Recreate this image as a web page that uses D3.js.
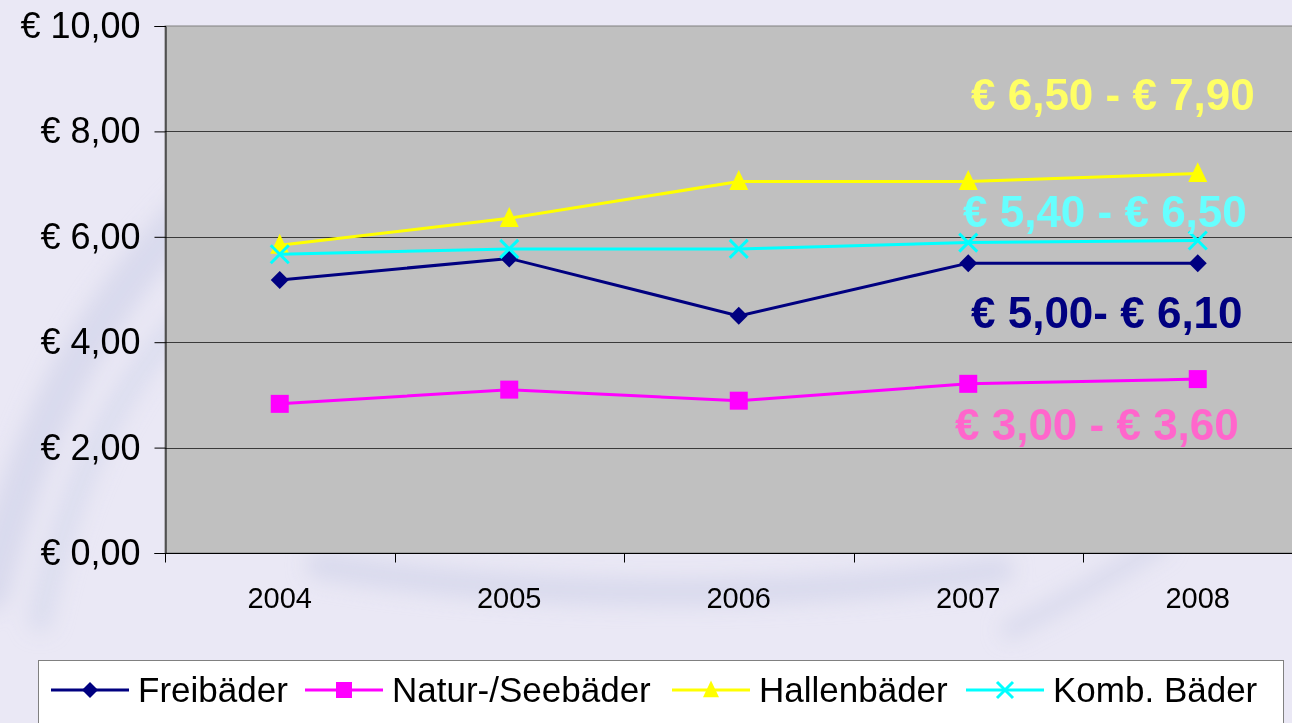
<!DOCTYPE html>
<html>
<head>
<meta charset="utf-8">
<script src="https://cdn.jsdelivr.net/npm/d3@7"></script>
<style>
html, body { margin: 0; padding: 0; background: #eae8f5; }
svg { display: block; font-family: "Liberation Sans", Arial, sans-serif; }
</style>
</head>
<body>
<div id="chart"></div>
<script>
var w = 1292,
	h = 723;

// data
var years = ['2004', '2005', '2006', '2007', '2008'];
var freibaeder = [5.18, 5.59, 4.50, 5.50, 5.50];
var naturSeebaeder = [2.83, 3.10, 2.89, 3.21, 3.30];
var hallenbaeder = [5.84, 6.35, 7.05, 7.05, 7.20];
var kombBaeder = [5.67, 5.77, 5.77, 5.89, 5.93];
var seriesNames = ['Freibäder', 'Natur-/Seebäder', 'Hallenbäder', 'Komb. Bäder'];
var yTicks = [0, 2, 4, 6, 8, 10];
var rangeLabels = ['€ 6,50 - € 7,90', '€ 5,40 - € 6,50', '€ 5,00- € 6,10', '€ 3,00 - € 3,60'];

var colors = ['#000080', '#ff00ff', '#ffff00', '#00ffff'];
var labelColors = ['#ffff66', '#66ffff', '#000080', '#ff66cc'];
var symbols = ['diamond', 'square', 'triangle', 'cross'];

var series = [freibaeder, naturSeebaeder, hallenbaeder, kombBaeder].map(function(vals, i){
	return { name: seriesNames[i], color: colors[i], symbol: symbols[i], values: vals };
});

var plot = { left: 165, top: 26, bottom: 553, step: 229.5 };

// annotation anchors (left x in px, baseline in axis units)
var annX = [971, 963, 971, 955],
	annY = [8.41, 6.19, 4.27, 2.14];

var x = d3.scaleBand()
	.domain(years)
	.range([plot.left, plot.left + years.length * plot.step])
	.padding(0);

var y = d3.scaleLinear()
	.domain([0, 10])
	.range([plot.bottom, plot.top]);

var svg = d3.select('#chart').append('svg')
	.attr('width', w)
	.attr('height', h)
	.attr('viewBox', '0 0 ' + w + ' ' + h);

// background + faint watermark swirl
var defs = svg.append('defs');
defs.append('filter').attr('id', 'blur')
	.attr('x', '-20%').attr('y', '-20%').attr('width', '140%').attr('height', '140%')
	.append('feGaussianBlur').attr('stdDeviation', 10);

svg.append('rect').attr('width', w).attr('height', h).attr('fill', '#eae8f5');

var wm = svg.append('g').attr('filter', 'url(#blur)').attr('fill', 'none').attr('stroke-linecap', 'round');
wm.append('path')
	.attr('d', 'M-10,590 C30,430 90,310 200,200')
	.attr('stroke', '#d2d4e9').attr('stroke-width', 40).attr('opacity', 0.7);
wm.append('path')
	.attr('d', 'M40,620 C70,480 120,380 200,300')
	.attr('stroke', '#d6d8ec').attr('stroke-width', 24).attr('opacity', 0.7);
wm.append('path')
	.attr('d', 'M320,565 C520,600 800,600 1000,570')
	.attr('stroke', '#d2d4e9').attr('stroke-width', 28).attr('opacity', 0.7);
wm.append('path')
	.attr('d', 'M1010,630 C1070,600 1110,575 1160,545')
	.attr('stroke', '#d2d4e9').attr('stroke-width', 18).attr('opacity', 0.7);

// plot area
svg.append('rect')
	.attr('x', plot.left)
	.attr('y', plot.top)
	.attr('width', w - plot.left + 20)
	.attr('height', plot.bottom - plot.top)
	.attr('fill', '#c0c0c0')
	.attr('stroke', '#808080')
	.attr('stroke-width', 1);

// gridlines
svg.append('g').selectAll('.grid')
	.data(yTicks.filter(function(d){ return d > 0 && d < 10; }))
	.enter().append('line')
		.attr('class', 'grid')
		.attr('x1', plot.left)
		.attr('x2', w)
		.attr('y1', function(d){ return Math.round(y(d)) + 0.5; })
		.attr('y2', function(d){ return Math.round(y(d)) + 0.5; })
		.attr('stroke', '#3a3a3a')
		.attr('stroke-width', 1);

// y axis
var yAxis = svg.append('g')
	.attr('transform', 'translate(' + (plot.left + 0.5) + ',0)')
	.call(d3.axisLeft(y)
		.tickValues(yTicks)
		.tickSize(11)
		.tickPadding(14)
		.tickFormat(function(d){ return '€ ' + d3.format('.2f')(d).replace('.', ','); }));
yAxis.select('.domain').attr('stroke', '#000');
yAxis.selectAll('.tick line').attr('stroke', '#000');
yAxis.selectAll('.tick text')
	.attr('font-size', 36)
	.attr('fill', '#000')
	.attr('font-family', '"Liberation Sans", Arial, sans-serif');

// x axis
var xAxis = svg.append('g')
	.attr('transform', 'translate(0,' + (plot.bottom + 0.5) + ')');
xAxis.append('line')
	.attr('x1', plot.left).attr('x2', w)
	.attr('stroke', '#000');
xAxis.selectAll('.xtick')
	.data(years.concat(['end']))
	.enter().append('line')
		.attr('class', 'xtick')
		.attr('x1', function(d, i){ return Math.round(plot.left + i * plot.step) + 0.5; })
		.attr('x2', function(d, i){ return Math.round(plot.left + i * plot.step) + 0.5; })
		.attr('y1', 0)
		.attr('y2', 9)
		.attr('stroke', '#000');
xAxis.selectAll('.xlabel')
	.data(years)
	.enter().append('text')
		.attr('class', 'xlabel')
		.attr('x', function(d){ return x(d) + x.bandwidth() / 2; })
		.attr('y', 54)
		.attr('text-anchor', 'middle')
		.attr('font-size', 29)
		.attr('fill', '#000')
		.text(function(d){ return d; });

// lines and markers
var line = d3.line()
	.x(function(d, i){ return x(years[i]) + x.bandwidth() / 2; })
	.y(function(d){ return y(d); });

function drawMarker(g, type, color, size) {
	if (type === 'diamond') {
		g.append('path').attr('d', 'M0,' + (-size/2) + 'L' + (size/2) + ',0L0,' + (size/2) + 'L' + (-size/2) + ',0Z')
			.attr('fill', color);
	} else if (type === 'square') {
		g.append('rect').attr('x', -size/2).attr('y', -size/2).attr('width', size).attr('height', size)
			.attr('fill', color);
	} else if (type === 'triangle') {
		g.append('path').attr('d', 'M0,' + (-size*0.6) + 'L' + (size/2) + ',' + (size*0.45) + 'L' + (-size/2) + ',' + (size*0.45) + 'Z')
			.attr('fill', color);
	} else if (type === 'cross') {
		var s = size / 2;
		g.append('path').attr('d', 'M' + (-s) + ',' + (-s) + 'L' + s + ',' + s + 'M' + s + ',' + (-s) + 'L' + (-s) + ',' + s)
			.attr('stroke', color).attr('stroke-width', 3).attr('fill', 'none');
	}
}

var seriesG = svg.selectAll('.series')
	.data(series)
	.enter().append('g')
		.attr('class', 'series');

seriesG.append('path')
	.attr('d', function(d){ return line(d.values); })
	.attr('fill', 'none')
	.attr('stroke', function(d){ return d.color; })
	.attr('stroke-width', 3);

seriesG.each(function(s){
	var g = d3.select(this);
	s.values.forEach(function(v, i){
		var m = g.append('g')
			.attr('transform', 'translate(' + (x(years[i]) + x.bandwidth() / 2) + ',' + y(v) + ')');
		drawMarker(m, s.symbol, s.color, s.symbol === 'triangle' ? 19 : 18);
	});
});

// range annotations
svg.selectAll('.range')
	.data(rangeLabels)
	.enter().append('text')
		.attr('class', 'range')
		.attr('x', function(d, i){ return annX[i]; })
		.attr('y', function(d, i){ return y(annY[i]); })
		.attr('font-size', 44)
		.attr('font-weight', 'bold')
		.attr('fill', function(d, i){ return labelColors[i]; })
		.text(function(d){ return d; });

// legend
var legend = svg.append('g').attr('class', 'legend');
legend.append('rect')
	.attr('x', 38.5)
	.attr('y', 660.5)
	.attr('width', 1245)
	.attr('height', 80)
	.attr('fill', '#fff')
	.attr('stroke', '#808080');

var legendX = [51, 305, 672, 966];
var legendItems = legend.selectAll('.item')
	.data(series)
	.enter().append('g')
		.attr('class', 'item')
		.attr('transform', function(d, i){ return 'translate(' + legendX[i] + ',690)'; });
legendItems.append('line')
	.attr('x1', 0).attr('x2', 78)
	.attr('stroke', function(d){ return d.color; })
	.attr('stroke-width', 3);
legendItems.each(function(s){
	var m = d3.select(this).append('g').attr('transform', 'translate(39,0)');
	drawMarker(m, s.symbol, s.color, 16);
});
legendItems.append('text')
	.attr('x', 87)
	.attr('y', 12)
	.attr('font-size', 35)
	.attr('fill', '#000')
	.text(function(d){ return d.name; });

</script>
</body>
</html>
